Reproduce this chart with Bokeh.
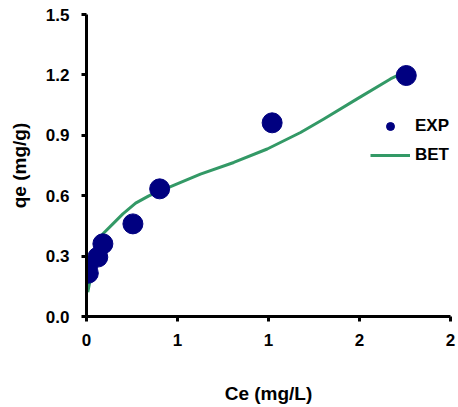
from bokeh.plotting import figure
from bokeh.models import FixedTicker, Legend, LegendItem, ColumnDataSource
from bokeh.embed import file_html
from bokeh.resources import INLINE

# Experimental data
ce_exp = [0.005, 0.01, 0.062, 0.09, 0.255, 0.402, 1.02, 1.757]
qe_exp = [0.245, 0.215, 0.295, 0.361, 0.46, 0.634, 0.962, 1.197]

# BET model curve
ce_bet = [0.007, 0.035, 0.081, 0.145, 0.2, 0.27, 0.34, 0.40, 0.462, 0.626, 0.809, 0.993, 1.176, 1.304, 1.487, 1.670, 1.707]
qe_bet = [0.121, 0.25, 0.402, 0.46, 0.51, 0.563, 0.598, 0.624, 0.645, 0.707, 0.765, 0.832, 0.914, 0.981, 1.081, 1.180, 1.196]

x_ticks = [0, 0.5, 1.0, 1.5, 2.0]
x_tick_labels = ["0", "1", "1", "2", "2"]
y_ticks = [0, 0.3, 0.6, 0.9, 1.2, 1.5]
y_tick_labels = ["0.0", "0.3", "0.6", "0.9", "1.2", "1.5"]

FONT = "Liberation Sans"

p = figure(width=458, height=407, x_range=(0, 2), y_range=(0, 1.5),
           output_backend="svg", toolbar_location=None,
           min_border_left=86, min_border_right=8, min_border_top=14, min_border_bottom=91)

p.xgrid.visible = False
p.ygrid.visible = False
p.outline_line_color = None
p.background_fill_color = "white"
p.border_fill_color = "white"

bet_src = ColumnDataSource(dict(x=ce_bet, y=qe_bet))
exp_src = ColumnDataSource(dict(x=ce_exp, y=qe_exp))

r_bet = p.line("x", "y", source=bet_src, line_color="#339966", line_width=3, line_join="round")
r_exp = p.scatter("x", "y", source=exp_src, size=20, fill_color="#000080", line_color="#000080")

p.xaxis.ticker = FixedTicker(ticks=x_ticks)
p.xaxis.major_label_overrides = {t: l for t, l in zip(x_ticks, x_tick_labels)}
p.yaxis.ticker = FixedTicker(ticks=y_ticks)
p.yaxis.major_label_overrides = {t: l for t, l in zip(y_ticks, y_tick_labels)}

for ax in (p.xaxis, p.yaxis):
    ax.axis_line_width = 3
    ax.axis_line_color = "black"
    ax.major_tick_line_width = 3
    ax.major_tick_line_color = "black"
    ax.major_tick_out = 5
    ax.major_tick_in = 0
    ax.minor_tick_line_color = None
    ax.major_label_text_font = FONT
    ax.major_label_text_font_style = "bold"
    ax.major_label_text_font_size = "17px"
    ax.major_label_text_color = "black"
    ax.axis_label_text_font = FONT
    ax.axis_label_text_font_style = "bold"
    ax.axis_label_text_font_size = "19px"
    ax.axis_label_text_color = "black"
    ax.major_label_standoff = 12

p.xaxis.axis_label = "Ce (mg/L)"
p.yaxis.axis_label = "qe (mg/g)"
p.xaxis.axis_label_standoff = 34
p.yaxis.axis_label_standoff = 13

legend = Legend(items=[LegendItem(label="EXP", renderers=[r_exp]),
                       LegendItem(label="BET", renderers=[r_bet])],
                location=(284, 151), padding=0, margin=0,
                border_line_color=None, background_fill_alpha=0,
                glyph_width=40, glyph_height=20, label_height=20,
                spacing=9, label_standoff=5,
                label_text_font=FONT, label_text_font_style="bold",
                label_text_font_size="17px", label_text_color="black")
p.add_layout(legend)

open("out.html", "w").write(file_html(p, INLINE))
